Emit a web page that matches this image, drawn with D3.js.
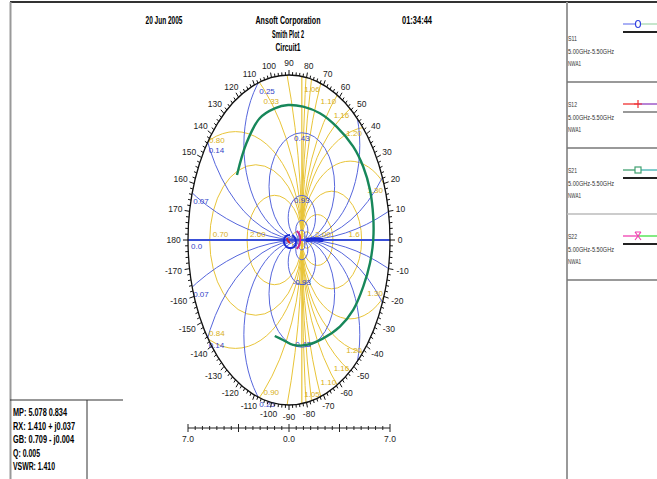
<!DOCTYPE html>
<html>
<head>
<meta charset="utf-8">
<script src="https://cdn.jsdelivr.net/npm/d3@7"></script>
<style>
  body { margin: 0; background: #fff; }
  svg { display: block; }
  text { font-family: "Liberation Sans Narrow", "Liberation Sans", Arial, sans-serif; }
</style>
</head>
<body>
<svg id="chart" width="657" height="479"></svg>
<script>
// ---- chart data ----
const headerTexts = ["20 Jun 2005", "Ansoft Corporation", "01:34:44"];
const titleTexts = ["Smith Plot 2", "Circuit1"];

// angle scale round the chart
const angleLabels = [0, 10, 20, 30, 40, 50, 60, 70, 80, 90, 100, 110, 120, 130, 140, 150, 160, 170, 180,
                     -170, -160, -150, -140, -130, -120, -110, -100, -90, -80, -70, -60, -50, -40, -30, -20, -10];

// point where both grid families touch (normalised, on the real axis)
const gridOrigin = 0.127;

// blue family: circles centred above / below the origin
const blueRadii = [2.21, 1.03, 0.574, 0.325, 0.135, 0.06, 0.03];
const blueUpperLabels = ["0.07", "0.14", "0.25", "0.43", "0.93", "", ""];
const blueLowerLabels = ["0.07", "0.14", "0.25", "-0.43", "-0.93", "", ""];

// yellow family: circles centred left / right of the origin
const yellowRightRadii = [0.025, 0.05, 0.154, 0.296, 0.478, 0.687, 0.9, 1.28, 2.5, 5, 12];
const yellowRightUpper = ["", "", "2.00", "1.6", "1.30", "1.20", "1.16", "1.10", "1.06", "", ""];
const yellowRightLower = ["", "", "", "", "1.30", "1.20", "1.16", "1.10", "1.05", "", ""];
const yellowLeftRadii = [0.025, 0.05, 0.271, 0.456, 0.657, 1.3, 3.5];
const yellowLeftUpper = ["", "", "2.60", "0.70", "0.80", "0.33", ""];
const yellowLeftLower = ["", "", "", "", "0.84", "0.90", ""];

// S21 trace (green)
const s21Re = [-0.515, -0.422, -0.290, -0.141, -0.009, 0.140, 0.306, 0.471, 0.636, 0.735, 0.802, 0.834,
               0.834, 0.802, 0.735, 0.636, 0.504, 0.338, 0.174, 0.041, -0.059, -0.141];
const s21Im = [0.394, 0.586, 0.738, 0.798, 0.818, 0.808, 0.768, 0.687, 0.566, 0.444, 0.303, 0.141,
               0.000, -0.139, -0.283, -0.424, -0.525, -0.596, -0.636, -0.636, -0.606, -0.582];
// S11 trace (blue) small loop near centre, plus its tail on the axis
const s11Re = [0.010, -0.030, -0.050, -0.040, 0.000, 0.050, 0.069, 0.059, 0.030];
const s11Im = [0.030, 0.024, 0.000, -0.030, -0.048, -0.042, -0.018, 0.012, 0.030];
const s11TailRe = [0.325, 0.250, 0.180];
const s11TailIm = [0.000, 0.004, 0.000];
// S12 (red) and S22 (magenta)
const s12Re = [-0.020, -0.010, 0.010];
const s12Im = [0.012, -0.006, -0.018];
const s22Re = [0.079, 0.109, 0.109, 0.079];
const s22Im = [0.055, 0.024, -0.018, -0.055];

// bottom scale
const scaleLabels = ["7.0", "0.0", "7.0"];

// legend
const legendNames = ["S11", "S12", "S21", "S22"];
const legendRange = "5.00GHz-5.50GHz";
const legendSource = "NWA1";
const legendLeftColors = ["#7a86f0", "#f03030", "#40a070", "#f040b0"];
const legendRightColors = ["#a8d8b0", "#9040c0", "#40b0b0", "#40e040"];
const legendMarkers = ["circle", "plus", "square", "cross"];
const legendUnderColors = ["#222", "#999", "#222", "#222"];

// marker read-out
const infoLines = ["MP: 5.078 0.834", "RX: 1.410 + j0.037", "GB: 0.709 - j0.004", "Q: 0.005", "VSWR: 1.410"];

// ---- drawing ----
const svg = d3.select("#chart");
const cx0 = 289, cy0 = 240, rxE = 101, ryE = 165;
const x = d3.scaleLinear().domain([-1, 1]).range([cx0 - rxE, cx0 + rxE]);
const y = d3.scaleLinear().domain([-1, 1]).range([cy0 + ryE, cy0 - ryE]);
const sx = r => x(r) - x(0), sy = r => y(0) - y(r);

const BLUE = "#5666dc", YEL = "#e8c438", BLUE_T = "#3445c8", YEL_T = "#d8b020";

// squeeze a text to a given width (the original uses a narrow face)
function fit(sel, w) { return sel.attr("textLength", w).attr("lengthAdjust", "spacingAndGlyphs"); }

// frame
svg.append("line").attr("x1", 10).attr("x2", 657).attr("y1", 2).attr("y2", 2)
  .attr("stroke", "#333").attr("stroke-width", 2);
svg.append("line").attr("x1", 10.5).attr("x2", 10.5).attr("y1", 2).attr("y2", 479)
  .attr("stroke", "#999").attr("stroke-width", 2);
svg.append("line").attr("x1", 567).attr("x2", 567).attr("y1", 2).attr("y2", 479)
  .attr("stroke", "#999").attr("stroke-width", 2);

// header
const hx = [164, 288, 417], hw = [37, 65, 30];
headerTexts.forEach((t, i) => fit(svg.append("text").attr("x", hx[i]).attr("y", 24)
  .attr("text-anchor", "middle").attr("font-size", 10.5).attr("font-weight", "bold").text(t), hw[i]));
const tw = [32, 25];
titleTexts.forEach((t, i) => fit(svg.append("text").attr("x", 288).attr("y", 38 + i * 13)
  .attr("text-anchor", "middle").attr("font-size", 10).attr("font-weight", "bold").text(t), tw[i]));

// clip to the chart ellipse
svg.append("clipPath").attr("id", "disk").append("ellipse")
  .attr("cx", x(0)).attr("cy", y(0)).attr("rx", sx(1)).attr("ry", sy(1));
const grid = svg.append("g").attr("clip-path", "url(#disk)");

// yellow circles
const yellowCircles = yellowRightRadii.map(r => ({c: gridOrigin + r, r}))
  .concat(yellowLeftRadii.map(r => ({c: gridOrigin - r, r})));
grid.selectAll(".yc").data(yellowCircles).join("ellipse").attr("class", "yc")
  .attr("cx", d => x(d.c)).attr("cy", y(0)).attr("rx", d => sx(d.r)).attr("ry", d => sy(d.r))
  .attr("fill", "none").attr("stroke", YEL).attr("stroke-width", 1);
grid.append("line").attr("x1", x(gridOrigin)).attr("x2", x(gridOrigin)).attr("y1", y(1)).attr("y2", y(-1))
  .attr("stroke", YEL).attr("stroke-width", 1.2);

// blue circles
const blueCircles = blueRadii.flatMap(r => [{c: r, r}, {c: -r, r}]);
grid.selectAll(".bc").data(blueCircles).join("ellipse").attr("class", "bc")
  .attr("cx", x(gridOrigin)).attr("cy", d => y(d.c)).attr("rx", d => sx(d.r)).attr("ry", d => sy(d.r))
  .attr("fill", "none").attr("stroke", BLUE).attr("stroke-width", 1);
grid.append("line").attr("x1", x(-1)).attr("x2", x(1)).attr("y1", y(0)).attr("y2", y(0))
  .attr("stroke", "#3a50d8").attr("stroke-width", 2);

// intersection of a circle (a,b,r) with the unit circle
function crossings(a, b, r) {
  const k = 1 + a * a + b * b - r * r;
  const n = Math.hypot(a, b);
  const d = k / (2 * n);
  if (Math.abs(d) > 1) return [];
  const ux = a / n, uy = b / n, h = Math.sqrt(1 - d * d);
  return [[d * ux - h * uy, d * uy + h * ux], [d * ux + h * uy, d * uy - h * ux]];
}

const labels = svg.append("g").attr("font-size", 8);
// blue labels
blueRadii.forEach((r, i) => {
  [[1, blueUpperLabels[i]], [-1, blueLowerLabels[i]]].forEach(([s, t]) => {
    if (!t) return;
    const pts = crossings(gridOrigin, s * r, r);
    if (pts.length) {
      const p = pts.sort((u, v) => u[0] - v[0])[0];
      labels.append("text").attr("x", x(p[0]) + 1).attr("y", y(p[1]) + (s > 0 ? 11 : 10))
        .attr("fill", BLUE_T).text(t);
    } else {
      labels.append("text").attr("x", x(gridOrigin)).attr("y", y(s * 2 * r) + (s > 0 ? 8 : 0))
        .attr("text-anchor", "middle").attr("fill", BLUE_T).text(t);
    }
  });
});
labels.append("text").attr("x", x(-1) + 3).attr("y", y(0) + 9).attr("fill", BLUE_T).text("0.0");

// yellow labels
function yellowLabel(c, r, t, s, side) {
  if (!t) return;
  const pts = crossings(c, 0, r);
  if (pts.length) {
    const p = pts.find(q => q[1] * s > 0);
    // near the top the yellow label sits just under the blue one
    const steep = Math.abs(p[1]) > 0.9;
    const dy = side > 0 ? (s > 0 ? 9 : 0) : (s > 0 ? (steep ? 22 : 2) : -3);
    labels.append("text").attr("x", x(p[0]) + (side > 0 ? -1 : (steep ? 4 : 1))).attr("y", y(p[1]) + dy)
      .attr("text-anchor", side > 0 ? "end" : "start").attr("fill", YEL_T).text(t);
  } else {
    const ex = c + side * r;
    labels.append("text").attr("x", x(ex) + (side > 0 ? -2 : 3)).attr("y", y(0) - 3)
      .attr("text-anchor", side > 0 ? "end" : "start").attr("fill", YEL_T).text(t);
  }
}
yellowRightRadii.forEach((r, i) => {
  yellowLabel(gridOrigin + r, r, yellowRightUpper[i], 1, 1);
  yellowLabel(gridOrigin + r, r, yellowRightLower[i], -1, 1);
});
yellowLeftRadii.forEach((r, i) => {
  yellowLabel(gridOrigin - r, r, yellowLeftUpper[i], 1, -1);
  yellowLabel(gridOrigin - r, r, yellowLeftLower[i], -1, -1);
});

// outer boundary with angle ticks
svg.append("ellipse").attr("cx", x(0)).attr("cy", y(0)).attr("rx", sx(1)).attr("ry", sy(1))
  .attr("fill", "none").attr("stroke", "#111").attr("stroke-width", 1.3);
const minor = d3.range(0, 360, 2);
svg.append("g").selectAll("line").data(minor).join("line")
  .each(function (a) {
    const t = a * Math.PI / 180, len = a % 10 === 0 ? 5 : 3;
    d3.select(this)
      .attr("x1", x(Math.cos(t))).attr("y1", y(Math.sin(t)))
      .attr("x2", x(Math.cos(t)) + len * Math.cos(t)).attr("y2", y(Math.sin(t)) - len * Math.sin(t));
  })
  .attr("stroke", "#111").attr("stroke-width", 1);
svg.append("g").selectAll("text").data(angleLabels).join("text")
  .attr("font-size", 8.5).attr("text-anchor", "middle").attr("fill", "#222")
  .attr("x", a => { const t = a * Math.PI / 180, w = String(a).length * 4.2;
    return x(Math.cos(t)) + Math.cos(t) * (8 + w / 2); })
  .attr("y", a => { const t = a * Math.PI / 180;
    return y(Math.sin(t)) - Math.sin(t) * 12 + 3; })
  .text(a => a);

// traces
const line = d3.line().x(d => x(d[0])).y(d => y(d[1])).curve(d3.curveCatmullRom);
const zipT = (re, im) => re.map((v, i) => [v, im[i]]);
svg.append("path").attr("d", line(zipT(s21Re, s21Im))).attr("fill", "none")
  .attr("stroke", "#17875a").attr("stroke-width", 2.4);
svg.append("path").attr("d", line(zipT(s11Re, s11Im))).attr("fill", "none")
  .attr("stroke", "#1a2ad8").attr("stroke-width", 2);
svg.append("path").attr("d", line(zipT(s11TailRe, s11TailIm))).attr("fill", "none")
  .attr("stroke", "#1a2ad8").attr("stroke-width", 4).attr("stroke-linecap", "round");
svg.append("path").attr("d", line(zipT(s22Re, s22Im))).attr("fill", "none")
  .attr("stroke", "#d02090").attr("stroke-width", 1.8);
svg.append("path").attr("d", line(zipT(s12Re, s12Im))).attr("fill", "none")
  .attr("stroke", "#e02020").attr("stroke-width", 1.8);

// bottom scale
const bs = d3.scaleLinear().domain([0, 28]).range([x(-1), x(1)]);
svg.append("line").attr("x1", bs(0)).attr("x2", bs(28)).attr("y1", 428).attr("y2", 428)
  .attr("stroke", "#222").attr("stroke-width", 1);
svg.append("g").selectAll("line").data(d3.range(0, 29)).join("line")
  .attr("x1", d => bs(d)).attr("x2", d => bs(d))
  .attr("y1", d => d % 7 === 0 ? 424 : 426).attr("y2", d => d % 7 === 0 ? 432 : 430)
  .attr("stroke", "#222").attr("stroke-width", 1);
scaleLabels.forEach((t, i) => svg.append("text").attr("x", bs(i * 14)).attr("y", 442)
  .attr("text-anchor", "middle").attr("font-size", 8.5).attr("fill", "#222").text(t));

// legend
const legendTop = [2, 82, 148, 214];
const leg = svg.append("g");
[82, 148, 214, 280].forEach((yy, i) => leg.append("line").attr("x1", 567).attr("x2", 657)
  .attr("y1", yy).attr("y2", yy).attr("stroke", i === 2 ? "#bbb" : "#777").attr("stroke-width", 1.5));
legendNames.forEach((name, i) => {
  const y0 = legendTop[i];
  const ly = y0 + 22;
  leg.append("line").attr("x1", 623).attr("x2", 638).attr("y1", ly).attr("y2", ly)
    .attr("stroke", legendLeftColors[i]).attr("stroke-width", 1.3);
  leg.append("line").attr("x1", 638).attr("x2", 657).attr("y1", ly).attr("y2", ly)
    .attr("stroke", legendRightColors[i]).attr("stroke-width", 1.3);
  const m = legendMarkers[i], c = legendLeftColors[i];
  if (m === "circle") leg.append("ellipse").attr("cx", 638).attr("cy", ly).attr("rx", 2.5).attr("ry", 3.5)
    .attr("fill", "#fff").attr("stroke", "#3040e0").attr("stroke-width", 1.2);
  if (m === "square") leg.append("rect").attr("x", 635).attr("y", ly - 3).attr("width", 6).attr("height", 6)
    .attr("fill", "#fff").attr("stroke", c).attr("stroke-width", 1.2);
  if (m === "plus") leg.append("path").attr("d", `M638,${ly - 4}V${ly + 4}M634,${ly}H642`)
    .attr("stroke", c).attr("stroke-width", 1.2);
  if (m === "cross") leg.append("path").attr("d", `M635,${ly - 4}L641,${ly + 4}M641,${ly - 4}L635,${ly + 4}M635,${ly - 4}H641`)
    .attr("stroke", c).attr("stroke-width", 1.2);
  leg.append("line").attr("x1", 623).attr("x2", 657).attr("y1", ly + 8).attr("y2", ly + 8)
    .attr("stroke", legendUnderColors[i]).attr("stroke-width", 2);
  const lw = [9, 46, 13];
  [name, legendRange, legendSource].forEach((t, j) => fit(leg.append("text")
    .attr("x", 568).attr("y", y0 + (i === 0 ? 39 : 25) + j * 12.5)
    .attr("font-size", 6.5).attr("fill", "#333").text(t), lw[j]));
});

// info box
svg.append("line").attr("x1", 10).attr("x2", 123).attr("y1", 400).attr("y2", 400)
  .attr("stroke", "#333").attr("stroke-width", 1.2);
svg.append("line").attr("x1", 87).attr("x2", 87).attr("y1", 400).attr("y2", 479)
  .attr("stroke", "#333").attr("stroke-width", 1);
const iw = [54, 62, 61, 27, 42];
infoLines.forEach((t, i) => fit(svg.append("text").attr("x", 13).attr("y", 416 + i * 13.5)
  .attr("font-size", 10).attr("font-weight", "bold").text(t), iw[i]));
</script>
</body>
</html>
